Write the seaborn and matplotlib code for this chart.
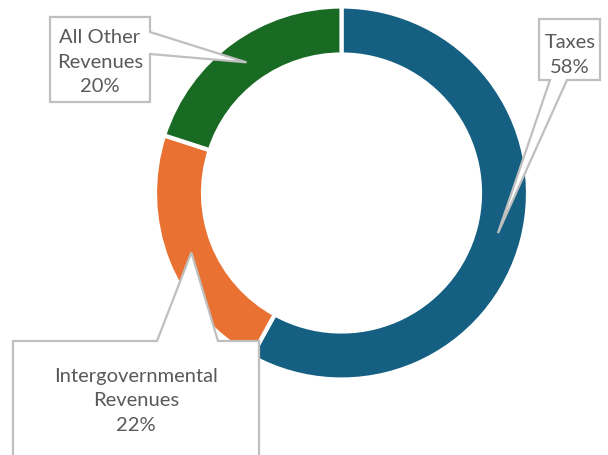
import numpy as np
import seaborn as sns
import matplotlib.pyplot as plt
from matplotlib.patches import Polygon

categories = ["Taxes", "Intergovernmental\nRevenues", "All Other\nRevenues"]
shares = [58, 22, 20]
colors = ["#156082", "#E97132", "#196B24"]

sns.set_theme(style="white")
plt.rcParams['font.family'] = ['Lato', 'DejaVu Sans']

W, H = 608, 456
fig = plt.figure(figsize=(W / 100, H / 100), dpi=100)
ax = fig.add_axes([0, 0, 1, 1])

cx, cy = 341.5, H - 194
r_out, ring = 186.5, 48

wedges, _ = ax.pie(
    shares, colors=colors, startangle=90, counterclock=False,
    radius=r_out, center=(cx, cy),
    wedgeprops=dict(width=ring, edgecolor="white", linewidth=3),
)
ax.set_xlim(0, W)
ax.set_ylim(0, H)
ax.set_aspect("equal")
ax.axis("off")

def tip_of(w):
    ang = np.deg2rad((w.theta1 + w.theta2) / 2)
    r = r_out - ring / 2 - 1
    return cx + r * np.cos(ang), cy + r * np.sin(ang)

def callout(pts, text, tx, ty):
    poly = Polygon([(x, H - y) for x, y in pts], closed=True,
                   facecolor="white", edgecolor="#BFBFBF", lw=1.6, zorder=5)
    ax.add_patch(poly)
    ax.text(tx, H - ty, text, ha="center", va="center", fontsize=14.5,
            color="#595959", linespacing=1.55, zorder=6)

# Taxes
tx, ty = tip_of(wedges[0])
callout([(539, 20), (600, 20), (600, 81), (567, 81), (tx, H - ty),
         (550, 81), (539, 81)],
        f"{categories[0]}\n{shares[0]}%", 570, 55)

# Intergovernmental
tx, ty = tip_of(wedges[1])
callout([(13, 342), (157, 342), (tx, H - ty), (218, 342), (259, 342),
         (259, 470), (13, 470)],
        f"{categories[1]}\n{shares[1]}%", 136, 401)

# All other
tx, ty = tip_of(wedges[2])
callout([(50, 18), (150, 18), (150, 33), (tx, H - ty), (150, 55),
         (150, 103), (50, 103)],
        f"{categories[2]}\n{shares[2]}%", 100, 62)

fig.savefig("out.png", dpi=100)
